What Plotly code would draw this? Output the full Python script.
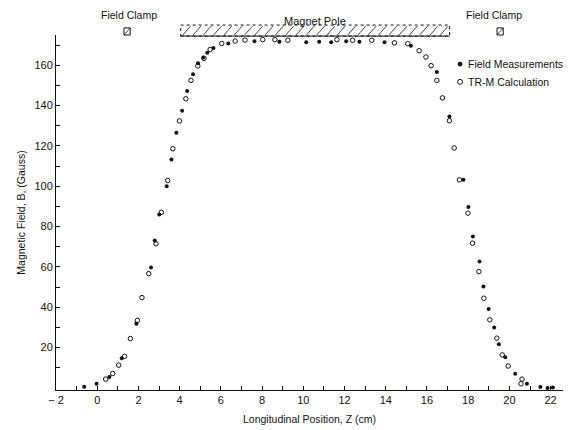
import numpy as np
import plotly.graph_objects as go

# Field measurements (filled dots)
meas_z = [-0.63, -0.03, 0.59, 1.19, 1.90, 2.61, 2.79, 3.01, 3.37, 3.60, 3.84, 4.12, 4.36,
          4.65, 4.89, 5.15, 5.34, 5.64, 6.36, 7.63, 8.84, 10.14, 10.77, 11.35, 12.08, 12.72,
          13.94, 15.22, 16.48, 17.09, 17.77, 18.01, 18.23, 18.55, 18.74, 18.99, 19.26, 19.49,
          19.80, 20.28, 20.85, 21.50, 21.85, 22.11]
meas_b = [0.6, 2.1, 5.4, 14.7, 31.9, 59.7, 73.1, 86.0, 100.0, 113.3, 126.5, 137.4, 147.2,
          155.5, 161.0, 163.8, 166.2, 168.6, 170.8, 171.9, 171.6, 171.4, 171.6, 171.4, 171.9,
          171.6, 171.4, 169.7, 156.6, 134.6, 103.2, 89.7, 75.1, 62.7, 50.3, 39.2, 30.0, 21.7,
          15.2, 7.0, 2.1, 0.5, 0.0, 0.3]

# TR-M calculation (open circles)
calc_z = [0.41, 0.75, 1.04, 1.33, 1.61, 1.95, 2.17, 2.50, 2.85, 3.11, 3.42, 3.67, 3.99,
          4.30, 4.55, 4.88, 5.18, 5.48, 6.04, 6.69, 7.17, 8.03, 8.62, 9.25, 11.63, 12.39,
          13.32, 14.42, 15.07, 15.62, 15.95, 16.20, 16.48, 16.75, 17.09, 17.32, 17.58, 17.99,
          18.21, 18.52, 18.76, 19.05, 19.39, 19.65, 19.94, 20.56, 20.61]
calc_b = [4.4, 7.2, 11.3, 15.7, 24.5, 33.5, 44.8, 56.7, 71.5, 87.1, 102.9, 118.6, 132.4,
          143.4, 152.5, 159.6, 163.4, 167.8, 170.8, 172.0, 172.5, 172.7, 172.7, 172.4, 172.7,
          172.4, 172.4, 171.1, 170.7, 167.2, 164.1, 159.8, 152.5, 143.8, 132.5, 119.0, 103.2,
          86.7, 71.8, 57.7, 44.5, 33.8, 24.7, 16.4, 10.9, 2.1, 4.4]

series_names = ["Field Measurements", "TR-M Calculation"]

x_tickvals = list(range(-2, 23))
x_ticktext = [("\u2212 2" if v == -2 else str(v)) if v % 2 == 0 else "" for v in x_tickvals]
y_tickvals = list(range(10, 171, 10))
y_ticktext = [str(v) if v % 20 == 0 else "" for v in y_tickvals]

# Annotated apparatus positions (cm)
pole_start, pole_end = 4.05, 17.1
clamp_left, clamp_right = 1.45, 19.55

FONT = "Liberation Sans, Arial, sans-serif"
INK = "#111111"

fig = go.Figure()
fig.add_trace(go.Scatter(
    x=meas_z, y=meas_b, mode="markers", name=series_names[0], showlegend=False,
    marker=dict(symbol="circle", size=4, color=INK, line=dict(width=0)),
    cliponaxis=False))
fig.add_trace(go.Scatter(
    x=calc_z, y=calc_b, mode="markers", name=series_names[1], showlegend=False,
    marker=dict(symbol="circle-open", size=4.5, color=INK, line=dict(width=1)),
    cliponaxis=False))

shapes = []
# Magnet pole hatched bar
y0p, y1p = 0.997, 1.028
shapes.append(dict(type="rect", xref="x", yref="paper", x0=pole_start, x1=pole_end,
                   y0=y0p, y1=y1p, line=dict(color=INK, width=1, dash="dot")))
for xs in np.arange(pole_start + 0.1, pole_end - 0.3, 0.5):
    shapes.append(dict(type="line", xref="x", yref="paper", x0=xs, x1=xs + 0.38,
                       y0=y0p + 0.003, y1=y1p - 0.003, line=dict(color=INK, width=0.8)))
shapes.append(dict(type="line", xref="x", yref="paper", x0=pole_start, x1=pole_end,
                   y0=y0p, y1=y0p, line=dict(color=INK, width=1)))
# Field clamp boxes
for c in (clamp_left, clamp_right):
    shapes.append(dict(type="rect", xref="x", yref="paper", x0=c - 0.15, x1=c + 0.15,
                       y0=1.0, y1=1.02, line=dict(color=INK, width=1)))
    shapes.append(dict(type="line", xref="x", yref="paper", x0=c - 0.15, x1=c + 0.15,
                       y0=1.0, y1=1.02, line=dict(color=INK, width=0.8)))

# Key (legend) drawn in paper coordinates
key_x, key_text_x = 0.797, 0.809
key_rows = [0.918, 0.868]
key_styles = [dict(fill=INK, d=4), dict(fill="white", d=5)]
for ky, st in zip(key_rows, key_styles):
    shapes.append(dict(type="circle", xref="paper", yref="paper",
                       xsizemode="pixel", ysizemode="pixel", xanchor=key_x, yanchor=ky,
                       x0=-st["d"] / 2, x1=st["d"] / 2, y0=-st["d"] / 2, y1=st["d"] / 2,
                       fillcolor=st["fill"], line=dict(color=INK, width=1)))

annotations = [
    dict(text="Magnet Pole", x=(pole_start + pole_end) / 2, xref="x", y=1.04, yref="paper",
         showarrow=False, yanchor="middle", font=dict(size=11, color=INK, family=FONT)),
    dict(text="Field Clamp", x=clamp_left + 0.1, xref="x", y=1.055, yref="paper",
         showarrow=False, yanchor="middle", font=dict(size=10.5, color=INK, family=FONT)),
    dict(text="Field Clamp", x=clamp_right - 0.3, xref="x", y=1.055, yref="paper",
         showarrow=False, yanchor="middle", font=dict(size=10.5, color=INK, family=FONT)),
]
for ky, name in zip(key_rows, series_names):
    annotations.append(dict(text=name, x=key_text_x, y=ky, xref="paper", yref="paper",
                            xanchor="left", yanchor="middle", showarrow=False,
                            font=dict(size=10.5, color=INK, family=FONT)))

fig.update_layout(
    width=576, height=430,
    margin=dict(l=56, r=13, t=35, b=40),
    paper_bgcolor="white", plot_bgcolor="white",
    font=dict(family=FONT, size=11, color=INK),
    shapes=shapes, annotations=annotations,
    showlegend=False,
    xaxis=dict(range=[-2, 22.6], tickvals=x_tickvals, ticktext=x_ticktext, automargin=False,
               ticks="inside", ticklen=4, tickcolor=INK, tickwidth=1,
               showline=True, linecolor=INK, linewidth=1, showgrid=False, zeroline=False,
               title=dict(text="Longitudinal Position, Z (cm)", font=dict(size=10.5), standoff=10),
               tickfont=dict(size=11)),
    yaxis=dict(range=[-1, 175], tickvals=y_tickvals, ticktext=y_ticktext, automargin=False,
               ticks="inside", ticklen=4, tickcolor=INK, tickwidth=1,
               showline=True, linecolor=INK, linewidth=1, showgrid=False, zeroline=False,
               title=dict(text="Magnetic Field, B, (Gauss)", font=dict(size=10.5), standoff=6),
               tickfont=dict(size=11)),
)

fig.write_html("out.html", config={"displayModeBar": False},
               post_script="document.body.style.margin='0';")
